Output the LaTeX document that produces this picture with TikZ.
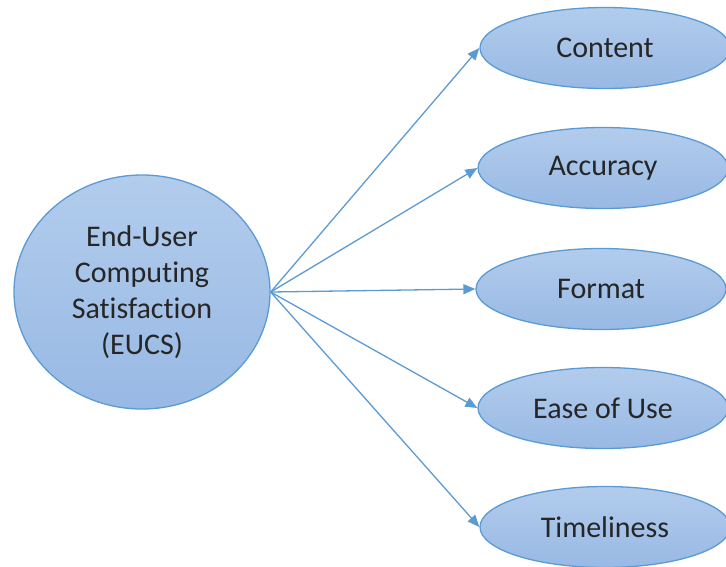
\documentclass[tikz,border=0pt]{standalone}
\usepackage{fontspec}
\setmainfont{Carlito}[Ligatures=NoCommon]
\usetikzlibrary{shapes.geometric,arrows.meta}
\definecolor{edgeblue}{HTML}{5B9BD5}
\definecolor{filltop}{HTML}{B2CCEC}
\definecolor{fillbot}{HTML}{98B9E4}
\definecolor{txt}{HTML}{262626}
\tikzset{
  bubble/.style={ellipse, draw=edgeblue, line width=1.3pt, top color=filltop, bottom color=fillbot,
    inner sep=0pt, text=txt, font=\fontsize{30}{36}\selectfont, align=center},
  attr/.style={bubble, minimum width=250pt, minimum height=81pt},
  link/.style={draw=edgeblue, line width=1.3pt, -{Triangle[length=12pt,width=10pt]}}
}
\begin{document}
\begin{tikzpicture}[x=1pt,y=-1pt]
  \useasboundingbox (0,0) rectangle (726,566);
  % central construct
  \node[bubble, minimum width=256pt, minimum height=234pt] (eucs) at (142,292)
    {End-User\\Computing\\Satisfaction\\(EUCS)};
  % the five dimensions
  \node[attr] (content)  at (605,48)  {Content};
  \node[attr] (accuracy) at (603,168) {Accuracy};
  \node[attr] (format)   at (601,289) {Format};
  \node[attr] (ease)     at (603,408) {Ease of Use};
  \node[attr] (time)     at (605,527) {Timeliness};
  % connectors from the construct to each dimension
  \coordinate (hub) at (eucs.east);
  \foreach \t in {content,accuracy,format,ease,time}
    \draw[link] (hub) -- (\t.west);
\end{tikzpicture}
\end{document}
